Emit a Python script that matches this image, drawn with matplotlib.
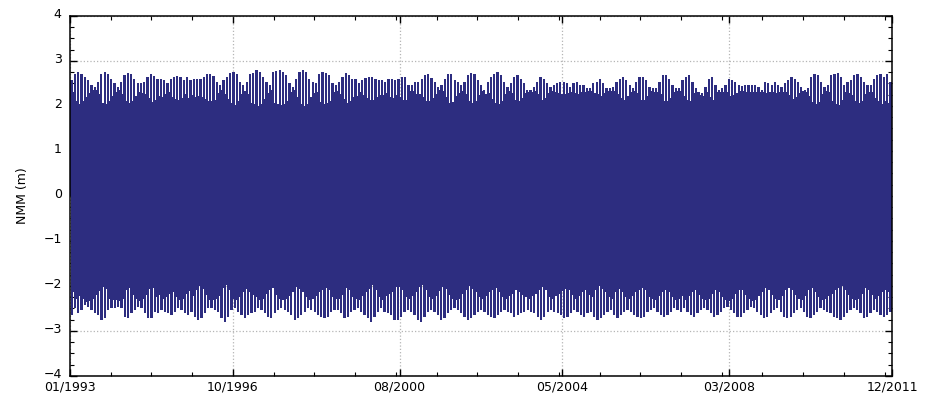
import datetime as dt

import numpy as np
import matplotlib
matplotlib.use("Agg")
import matplotlib.pyplot as plt
import matplotlib.dates as mdates
import matplotlib.transforms as mtransforms
from matplotlib.ticker import AutoMinorLocator, MultipleLocator

plt.rcParams["font.family"] = ["DejaVu Sans"]

# record span and axis labels
start, end = dt.date(1993, 1, 1), dt.date(2011, 12, 1)
tick_dates = [dt.date(1993, 1, 1), dt.date(1996, 10, 1), dt.date(2000, 8, 1),
              dt.date(2004, 5, 1), dt.date(2008, 3, 1), dt.date(2011, 12, 1)]
tick_labels = ["01/1993", "10/1996", "08/2000", "05/2004", "03/2008", "12/2011"]

# high water crests and the level of the troughs between them (cm)
high_cm = [
    257, 272, 276, 272, 264, 257, 246, 242, 253, 272, 276, 272, 261, 250, 242, 253, 268, 274, 270, 261,
    250, 252, 253, 264, 272, 267, 261, 261, 257, 250, 261, 264, 266, 264, 257, 264, 257, 261, 259, 261,
    264, 270, 270, 267, 253, 246, 257, 264, 274, 276, 270, 253, 247, 253, 272, 274, 279, 276, 264, 253,
    246, 276, 277,
    279, 276, 268, 250, 242, 261, 276, 279, 276, 261, 253, 250, 272, 276, 274, 268, 250, 246, 253, 264,
    273, 268, 261, 259, 250, 257, 262, 264, 264, 259, 257, 257, 253, 259, 261, 257, 261, 264, 264, 247,
    247, 253, 253, 261, 268, 270, 262, 253, 242, 246, 261, 272, 270, 257, 253, 246, 253, 268, 274, 270,
    257, 246,
    235, 253, 264, 272, 276, 268, 253, 242, 250, 264, 268, 261, 250, 235, 235, 242, 253, 264, 261, 250,
    242, 246, 250, 253, 253, 250, 242, 250, 253, 246, 246, 239, 239, 250, 253, 259, 250, 239, 239, 242,
    253, 261, 264, 257, 246, 239, 253, 264, 264, 257, 242, 239, 239, 253, 268, 268, 261, 246, 239, 239,
    257, 264,
    268, 253, 239, 230, 228, 242, 261, 264, 246, 235, 239, 246, 261, 257, 253, 246, 244, 246, 247, 247,
    246, 242, 235, 253, 250, 247, 253, 246, 242, 250, 257, 264, 261, 253, 242, 235, 239, 264, 272, 268,
    253, 242, 246, 268, 272, 274, 264, 246, 253, 257, 268, 272, 264, 253, 246, 246, 261, 268, 272, 264,
    272, 253,
]
high_floor_cm = [
    230, 212, 205, 210, 220, 228, 236, 236, 226, 206, 204, 210, 222, 232, 236, 226, 212, 206, 210, 222,
    232, 228, 226, 218, 208, 214, 222, 220, 226, 232, 220, 216, 214, 218, 226, 218, 224, 220, 222, 220,
    216, 210, 210, 214, 228, 236, 226, 216, 206, 202, 210, 226, 234, 226, 206, 204, 200, 204, 216, 228,
    236, 206, 204,
    202, 204, 212, 230, 236, 220, 204, 200, 204, 220, 228, 232, 208, 204, 206, 212, 230, 234, 226, 216,
    206, 212, 220, 222, 230, 224, 218, 214, 214, 220, 224, 224, 228, 220, 218, 224, 220, 214, 214, 234,
    234, 226, 226, 220, 212, 210, 218, 226, 236, 234, 220, 206, 208, 222, 228, 234, 226, 212, 206, 210,
    224, 234,
    226, 228, 216, 206, 204, 210, 226, 234, 228, 214, 210, 218, 228, 230, 230, 234, 226, 214, 218, 228,
    234, 232, 228, 226, 226, 228, 232, 228, 226, 232, 232, 234, 234, 228, 226, 222, 228, 234, 234, 234,
    226, 218, 214, 222, 232, 234, 228, 214, 214, 222, 234, 232, 232, 226, 210, 210, 218, 232, 234, 234,
    222, 214,
    212, 228, 232, 224, 222, 232, 220, 214, 232, 230, 232, 232, 222, 224, 228, 234, 234, 232, 232, 232,
    232, 232, 230, 228, 230, 232, 228, 232, 232, 230, 224, 216, 220, 228, 234, 230, 222, 208, 204, 208,
    226, 234, 230, 210, 204, 202, 214, 232, 228, 224, 212, 206, 212, 226, 232, 232, 218, 210, 204, 212,
    206, 226,
]

# low water troughs and the level of the crests between them (cm)
low_cm = [
    -264, -250, -261, -253, -242, -246, -253, -261, -264, -276, -272, -253, -250, -250, -246, -250, -268, -272, -261, -253,
    -246, -250, -261, -272, -272, -257, -261, -253, -257, -261, -264, -257, -250, -253, -261, -264, -257, -268, -276, -272,
    -261, -250, -250, -253, -257, -272, -279, -268, -253, -250, -257, -264, -272, -264, -261, -257, -250, -253, -261, -268,
    -272, -261, -253, -250, -253, -257, -264, -276, -272, -264, -257, -250, -253, -257, -264, -268, -272, -268, -257, -253,
    -253, -261, -272, -268, -257, -253, -250, -257, -264, -272, -279, -268, -257, -250, -257, -261, -264, -276, -276, -268,
    -257, -253, -257, -264, -276, -279, -268, -257, -253, -257, -264, -276, -272, -261, -253, -250, -253, -261, -268, -276,
    -272, -264, -257, -253, -257, -264, -268, -272, -264, -257, -253, -257, -261, -268, -264, -261, -257, -253, -257, -261,
    -268, -276, -268, -257, -253, -257, -261, -264, -272, -268, -261, -253, -257, -264, -268, -261, -257, -268, -276, -272,
    -264, -257,
    -253, -264, -272, -264, -257, -253, -257, -264, -268, -272, -268, -257, -253, -250, -257, -264, -268, -264, -257, -250,
    -253, -257, -250, -257, -264, -268, -261, -253, -250, -253, -261, -268, -264, -257, -250, -246, -253, -261, -268, -268,
    -261, -253, -246, -250, -257, -264, -272, -268, -261, -253, -250, -257, -268, -272, -268, -261, -253, -250, -257, -268,
    -272, -264, -257, -250, -253, -257, -261, -268, -272, -276, -268, -261, -253, -250, -253, -261, -272, -268, -261, -253,
    -257, -264, -268, -264, -257,
]
low_floor_cm = [
    -214, -230, -222, -230, -236, -234, -228, -220, -212, -202, -206, -228, -232, -232, -234, -230, -210, -204, -220, -228,
    -234, -230, -220, -206, -204, -224, -220, -228, -224, -218, -214, -224, -232, -228, -218, -212, -222, -210, -200, -206,
    -220, -232, -232, -228, -222, -204, -198, -208, -228, -232, -224, -214, -206, -214, -220, -224, -232, -228, -218, -210,
    -204, -220, -228, -232, -228, -222, -214, -202, -206, -214, -224, -232, -228, -222, -214, -210, -204, -210, -224, -228,
    -228, -220, -204, -210, -224, -228, -232, -222, -214, -206, -198, -210, -224, -232, -222, -218, -214, -202, -202, -210,
    -224, -228, -222, -214, -202, -198, -210, -224, -228, -222, -212, -202, -206, -220, -228, -232, -228, -218, -210, -200,
    -206, -214, -224, -228, -222, -214, -210, -204, -214, -224, -228, -222, -218, -210, -214, -220, -224, -228, -222, -218,
    -210, -202, -210, -224, -228, -222, -218, -212, -206, -210, -220, -228, -222, -214, -210, -220, -224, -210, -200, -206,
    -214, -224,
    -228, -214, -206, -214, -224, -228, -222, -214, -210, -204, -210, -224, -228, -232, -222, -214, -210, -214, -224, -232,
    -228, -222, -232, -222, -214, -210, -220, -228, -232, -228, -218, -210, -214, -224, -232, -234, -228, -218, -210, -210,
    -220, -228, -234, -232, -222, -214, -204, -210, -220, -228, -232, -222, -210, -204, -210, -220, -228, -232, -222, -210,
    -204, -214, -224, -232, -228, -222, -218, -210, -204, -200, -210, -220, -228, -232, -228, -218, -204, -210, -220, -228,
    -222, -214, -210, -214, -224,
]

navy = "#2d2d80"

fig = plt.figure(figsize=(9.28, 3.94), dpi=100)
ax = fig.add_axes([0.0754, 0.0457, 0.886, 0.9137])

t0, t1 = mdates.date2num(start), mdates.date2num(end)


def draw_band(crest_cm, floor_cm):
    n = len(crest_cm)
    step = (t1 - t0) / n
    x = t0 + (np.arange(n) + 0.5) * step
    crest = np.array(crest_cm) / 100.0
    floor = np.array(floor_cm) / 100.0
    # tidal extremes as thin bars, body filled up to the trough level
    ax.bar(x, crest, width=step * 0.68, color=navy, linewidth=0, zorder=2)
    ax.fill_between(x, 0, floor, step="post", color=navy, linewidth=0, zorder=2)


draw_band(high_cm, high_floor_cm)
draw_band(low_cm, low_floor_cm)

ax.set_xlim(t0, t1)
ax.set_ylim(-4, 4)

ax.set_xticks([mdates.date2num(d) for d in tick_dates])
ax.set_xticklabels(tick_labels)
ax.xaxis.set_minor_locator(AutoMinorLocator(4))
ax.yaxis.set_major_locator(MultipleLocator(1))
ax.yaxis.set_minor_locator(AutoMinorLocator(4))

ax.tick_params(which="both", direction="in", top=True, right=True, labelsize=9)
ax.tick_params(which="major", length=5, width=1)
ax.tick_params(which="minor", length=3, width=0.8)
ax.tick_params(axis="y", pad=6)
ax.tick_params(axis="x", pad=3.5)

# nudge the y labels up a little so "-4" clears the first date
lift = mtransforms.ScaledTranslation(0, 2.5 / 72, fig.dpi_scale_trans)
for lbl in ax.get_yticklabels():
    lbl.set_transform(lbl.get_transform() + lift)

ax.grid(True, which="major", color="#b5b5b5", linestyle=":", linewidth=0.9)
ax.set_axisbelow(True)

for sp in ax.spines.values():
    sp.set_linewidth(1.1)

ax.set_ylabel("NMM (m)", fontsize=9, labelpad=10)

fig.savefig("out.png", dpi=100)
